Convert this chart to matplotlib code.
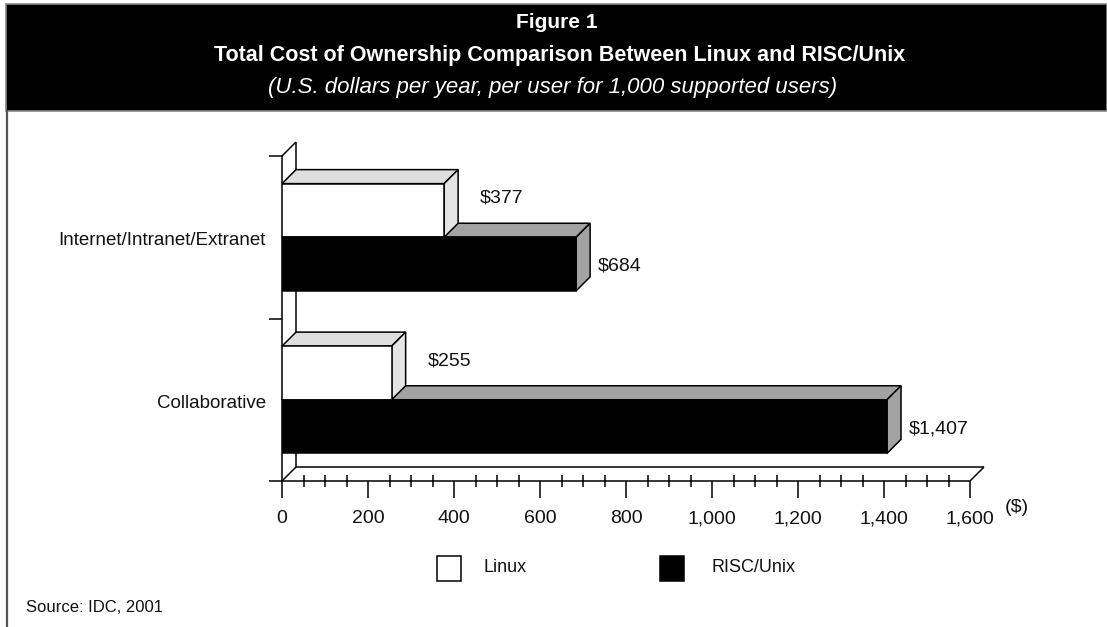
import matplotlib
matplotlib.use("Agg")
import matplotlib.pyplot as plt
from matplotlib.patches import Polygon, Rectangle

# ---- data ----
categories = ["Internet/Intranet/Extranet", "Collaborative"]
series_names = ["Linux", "RISC/Unix"]
linux_values = [377, 255]
risc_values = [684, 1407]
value_labels_linux = ["$377", "$255"]
value_labels_risc = ["$684", "$1,407"]
xticks = [0, 200, 400, 600, 800, 1000, 1200, 1400, 1600]
xtick_labels = ["0", "200", "400", "600", "800", "1,000", "1,200", "1,400", "1,600"]

W, H = 1107, 627
FONT = ["Liberation Sans", "DejaVu Sans"]
plt.rcParams["font.family"] = FONT

fig = plt.figure(figsize=(W / 100, H / 100), dpi=100)
fig.patch.set_facecolor("white")

def fx(px):
    return px / W

def fy(py):
    return 1 - py / H

# header band
fig.add_artist(Rectangle((fx(6), fy(111)), fx(1107 - 6), (111 - 4) / H,
                         transform=fig.transFigure, facecolor="black",
                         edgecolor="#888888", linewidth=1.2, zorder=0))
# left frame line
fig.add_artist(plt.Line2D([fx(7), fx(7)], [fy(111), 0], transform=fig.transFigure,
                          color="#555555", linewidth=1.6))

fig.text(fx(557), fy(22), "Figure 1", color="white", fontsize=15,
         fontweight="bold", ha="center", va="center")
fig.text(fx(560), fy(55), "Total Cost of Ownership Comparison Between Linux and RISC/Unix",
         color="white", fontsize=15.5, fontweight="bold", ha="center", va="center")
fig.text(fx(553), fy(87), "(U.S. dollars per year, per user for 1,000 supported users)",
         color="white", fontsize=16, fontstyle="italic", ha="center", va="center")

# main axes: x 0..1600 -> px 282..970, y band px 156..481
ax = fig.add_axes([fx(282), fy(481), fx(970 - 282), (481 - 156) / H])
ax.set_xlim(0, 1600)
ax.set_ylim(1.5, -0.5)
ax.patch.set_alpha(0)
for s in ax.spines.values():
    s.set_visible(False)

px_x = 1600 / (970 - 282)      # data units per pixel (x)
px_y = 2.0 / (481 - 156)       # data units per pixel (y)
DX = 14 * px_x
DY = 14 * px_y
TICKL = 13 * px_x
lw = 1.1
ec = "black"

def line(xs, ys, z=1):
    ax.plot(xs, ys, color=ec, linewidth=lw, clip_on=False, zorder=z,
            solid_capstyle="butt")

# walls and floor
line([0, 0], [-0.5, 1.5])                       # front wall
line([DX, DX], [-0.5 - DY, 1.5 - DY])           # back wall
line([0, DX], [-0.5, -0.5 - DY])                # top diagonal
for yt in [-0.5, 0.5]:
    line([-TICKL, 0], [yt, yt])
line([-TICKL, 1600], [1.5, 1.5], z=6)           # floor front (axis line)
line([DX, 1600 + DX], [1.5 - DY, 1.5 - DY])     # floor back
line([0, DX], [1.5, 1.5 - DY])
line([1600, 1600 + DX], [1.5, 1.5 - DY])

h = 0.33

def bar3d(y_center, v, top, side, z):
    y0 = y_center - h / 2
    y1 = y_center + h / 2
    ax.add_patch(Polygon([(0, y0), (v, y0), (v + DX, y0 - DY), (DX, y0 - DY)],
                         closed=True, facecolor=top, edgecolor=ec, linewidth=lw,
                         zorder=z, clip_on=False))
    ax.add_patch(Polygon([(v, y0), (v + DX, y0 - DY), (v + DX, y1 - DY), (v, y1)],
                         closed=True, facecolor=side, edgecolor=ec, linewidth=lw,
                         zorder=z, clip_on=False))

ypos = list(range(len(categories)))
for i in ypos:
    bar3d(i + h / 2, risc_values[i], "#a3a3a3", "#a3a3a3", 2)
    bar3d(i - h / 2, linux_values[i], "#dedede", "#e4e4e4", 3)

ax.barh([i - h / 2 for i in ypos], linux_values, height=h, color="white",
        edgecolor=ec, linewidth=lw, zorder=4)
ax.barh([i + h / 2 for i in ypos], risc_values, height=h, color="black",
        edgecolor=ec, linewidth=lw, zorder=4)

lab_fs = 14
for i in ypos:
    ax.annotate(value_labels_linux[i], (linux_values[i], i - h / 2),
                xytext=(36 * 0.72, 12 * 0.72), textcoords="offset points",
                ha="left", va="center", fontsize=lab_fs, color="#111111")
    ax.annotate(value_labels_risc[i], (risc_values[i], i + h / 2),
                xytext=(22 * 0.72, -2 * 0.72), textcoords="offset points",
                ha="left", va="center", fontsize=lab_fs, color="#111111")

# category labels
for i, c in enumerate(categories):
    ax.text(-16 * px_x, i + 0.02, c, ha="right", va="center", fontsize=13.5,
            color="#111111", clip_on=False)

# x ticks
ax.set_yticks([])
ax.set_xticks(xticks)
ax.set_xticklabels(xtick_labels)
ax.set_xticks([m for m in range(50, 1600, 50) if m % 200 != 0], minor=True)
ax.tick_params(axis="x", which="major", direction="out", length=12, width=1.1,
               pad=9, labelsize=14, labelcolor="#111111")
ax.tick_params(axis="x", which="minor", direction="inout", length=8, width=1.1)
ax.text(1600 + 35 * px_x, 1.5 + 27 * px_y, "($)", ha="left", va="center",
        fontsize=14, color="#111111", clip_on=False)

# legend
fig.add_artist(Rectangle((fx(437), fy(581)), fx(24), 25 / H, transform=fig.transFigure,
                         facecolor="white", edgecolor="black", linewidth=1.1))
fig.text(fx(484), fy(568), series_names[0], fontsize=13, ha="left", va="center",
         color="#111111")
fig.add_artist(Rectangle((fx(660), fy(581)), fx(24), 25 / H, transform=fig.transFigure,
                         facecolor="black", edgecolor="black", linewidth=1.1))
fig.text(fx(711), fy(568), series_names[1], fontsize=13, ha="left", va="center",
         color="#111111")

fig.text(fx(26), fy(608), "Source: IDC, 2001", fontsize=12, ha="left", va="center",
         color="#111111")

fig.savefig("out.png", dpi=100)
